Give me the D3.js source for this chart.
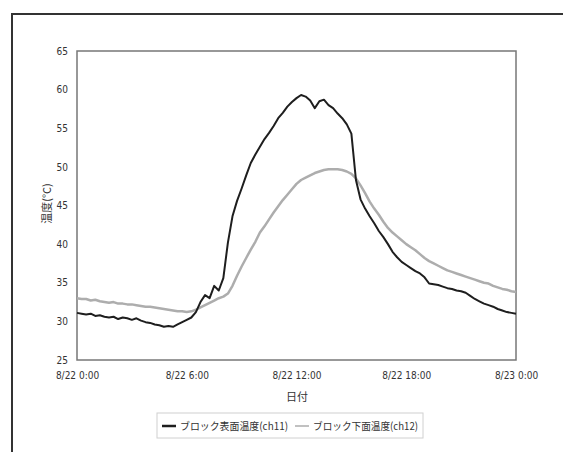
<!DOCTYPE html>
<html>
<head>
<meta charset="utf-8">
<script src="https://cdn.jsdelivr.net/npm/d3@7"></script>
<style>
  body { margin: 0; background: #fff; }
  text { fill: #333; }
  .tick text { font-family: "Liberation Sans Narrow", "DejaVu Sans Condensed", sans-serif; font-size: 10px; }
</style>
</head>
<body>
<svg id="chart" width="563" height="452"></svg>
<script>
// time in hours from 8/22 0:00, one reading every 15 min
const hours = d3.range(0, 24.01, 0.25)

// ch11 ブロック表面温度
const surface = [
  31.1, 31.0, 30.9, 31.0, 30.7, 30.8, 30.6, 30.5, 30.6, 30.3, 30.5, 30.4,
  30.2, 30.4, 30.1, 29.9, 29.8, 29.6, 29.5, 29.3, 29.4, 29.3, 29.6, 29.9,
  30.2, 30.5, 31.2, 32.5, 33.4, 33.0, 34.6, 34.0, 35.6, 40.2, 43.6, 45.6,
  47.2, 48.9, 50.5, 51.6, 52.6, 53.6, 54.4, 55.3, 56.3, 57.0, 57.8, 58.4,
  58.9, 59.3, 59.1, 58.6, 57.6, 58.5, 58.7, 58.0, 57.6, 56.9, 56.3, 55.5,
  54.3, 48.3, 45.8, 44.6, 43.6, 42.7, 41.7, 40.9, 40.0, 39.0, 38.3, 37.7,
  37.3, 36.9, 36.5, 36.2, 35.7, 34.9, 34.8, 34.7, 34.5, 34.3, 34.2, 34.0,
  33.9, 33.7, 33.3, 32.9, 32.6, 32.3, 32.1, 31.9, 31.6, 31.4, 31.2, 31.1,
  31.0
]

// ch12 ブロック下面温度
const bottom = [
  33.0, 32.9, 32.9, 32.7, 32.8, 32.6, 32.5, 32.4, 32.5, 32.3, 32.3, 32.2,
  32.2, 32.1, 32.0, 31.9, 31.9, 31.8, 31.7, 31.6, 31.5, 31.4, 31.3, 31.3,
  31.2, 31.3, 31.5, 31.8, 32.1, 32.4, 32.7, 33.0, 33.2, 33.6, 34.6, 35.9,
  37.1, 38.2, 39.3, 40.3, 41.5, 42.3, 43.2, 44.1, 44.9, 45.7, 46.4, 47.1,
  47.8, 48.3, 48.6, 48.9, 49.2, 49.4, 49.6, 49.7, 49.7, 49.7, 49.6, 49.4,
  49.1, 48.5, 47.6, 46.6, 45.5, 44.6, 43.8, 42.9, 42.1, 41.5, 41.0, 40.5,
  40.0, 39.6, 39.2, 38.7, 38.2, 37.8, 37.5, 37.2, 36.9, 36.6, 36.4, 36.2,
  36.0, 35.8, 35.6, 35.4, 35.2, 35.0, 34.9, 34.6, 34.4, 34.2, 34.1, 33.9,
  33.8
]

const xTicks = [0, 6, 12, 18, 24]
const xTickLabels = ['8/22 0:00', '8/22 6:00', '8/22 12:00', '8/22 18:00', '8/23 0:00']
const yTicks = [25, 30, 35, 40, 45, 50, 55, 60, 65]
const seriesNames = ['ブロック表面温度(ch11)', 'ブロック下面温度(ch12)']

const svg = d3.select('#chart')
const plot = { left: 77, right: 516, top: 51, bottom: 360 }

const x = d3.scaleLinear().domain([0, 24]).range([plot.left, plot.right])
const y = d3.scaleLinear().domain([25, 65]).range([plot.bottom, plot.top])

// outer frame (only top and left edges are visible)
svg.append('path')
  .attr('d', 'M12,452 L12,14 L563,14')
  .attr('fill', 'none')
  .attr('stroke', '#333')
  .attr('stroke-width', 2)

// plot area box
svg.append('rect')
  .attr('x', plot.left)
  .attr('y', plot.top)
  .attr('width', plot.right - plot.left)
  .attr('height', plot.bottom - plot.top)
  .attr('fill', '#fff')
  .attr('stroke', '#777')
  .attr('stroke-width', 1.5)

// axes
const xAxis = d3.axisBottom(x)
  .tickValues(xTicks)
  .tickSize(0)
  .tickPadding(12)
  .tickFormat((d, i) => xTickLabels[i])
svg.append('g')
  .attr('transform', `translate(0,${plot.bottom})`)
  .call(xAxis)
  .call(g => g.select('.domain').remove())

const yAxis = d3.axisLeft(y)
  .tickValues(yTicks)
  .tickSize(0)
  .tickPadding(9)
svg.append('g')
  .attr('transform', `translate(${plot.left},0)`)
  .call(yAxis)
  .call(g => g.select('.domain').remove())

// axis titles
svg.append('text')
  .attr('x', 297)
  .attr('y', 401)
  .attr('text-anchor', 'middle')
  .style('font-family', '"Noto Sans CJK JP", sans-serif')
  .style('font-size', '11px')
  .text('日付')

svg.append('text')
  .attr('transform', `translate(51,${(plot.top + plot.bottom) / 2 - 2}) rotate(-90)`)
  .attr('text-anchor', 'middle')
  .style('font-family', '"Noto Sans CJK JP", sans-serif')
  .style('font-size', '11px')
  .text('温度(°C)')

// lines
const line = d3.line()
  .x((d, i) => x(hours[i]))
  .y(d => y(d))

svg.append('path')
  .datum(bottom)
  .attr('d', line)
  .attr('fill', 'none')
  .attr('stroke', '#adadad')
  .attr('stroke-width', 2.5)
  .attr('stroke-linejoin', 'round')

svg.append('path')
  .datum(surface)
  .attr('d', line)
  .attr('fill', 'none')
  .attr('stroke', '#1e1e1e')
  .attr('stroke-width', 2)
  .attr('stroke-linejoin', 'round')

// legend
const legend = svg.append('g')
legend.append('rect')
  .attr('x', 157).attr('y', 413)
  .attr('width', 266).attr('height', 25)
  .attr('fill', '#fff')
  .attr('stroke', '#d0d0d0')

const legendColors = ['#1e1e1e', '#adadad']
const legendX = [162, 295]
seriesNames.forEach((name, i) => {
  legend.append('line')
    .attr('x1', legendX[i]).attr('x2', legendX[i] + 14)
    .attr('y1', 426).attr('y2', 426)
    .attr('stroke', legendColors[i])
    .attr('stroke-width', i === 0 ? 2.5 : 1.5)
  legend.append('text')
    .attr('x', legendX[i] + 18)
    .attr('y', 430)
    .style('font-family', '"Noto Sans CJK JP", sans-serif')
    .style('font-size', '10.5px')
    .attr('textLength', i === 0 ? 108 : 105)
    .attr('lengthAdjust', 'spacingAndGlyphs')
    .text(name)
})
</script>
</body>
</html>
